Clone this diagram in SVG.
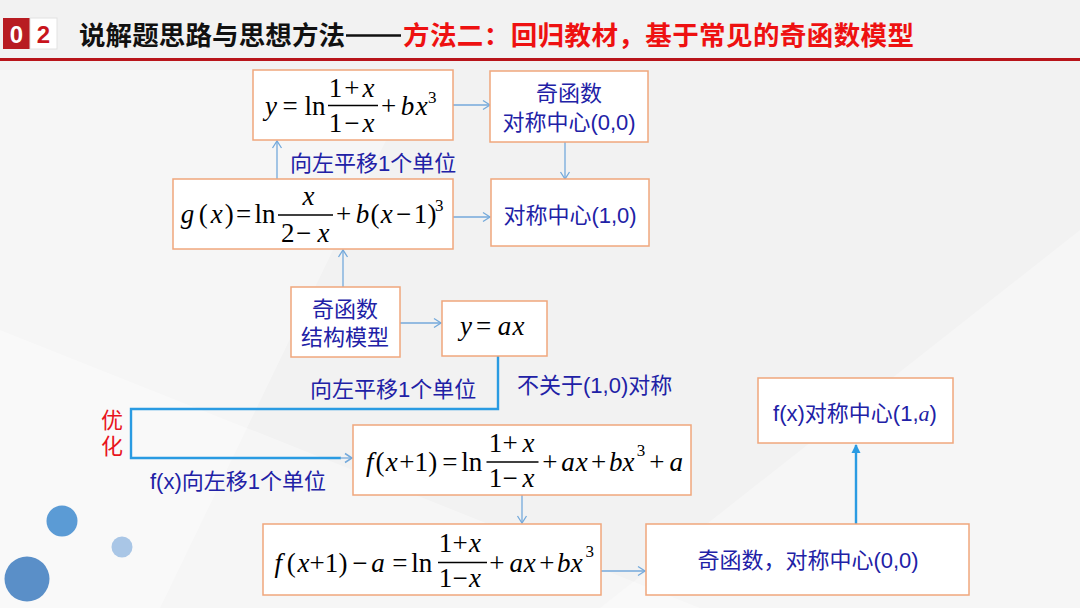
<svg xmlns="http://www.w3.org/2000/svg" width="1080" height="608" viewBox="0 0 1080 608">
<style>
.box{fill:#ffffff;stroke:#F0A77C;stroke-width:1.5}
.cn{font-family:"Liberation Sans","Noto Sans CJK SC",sans-serif;font-size:22px;fill:#2121A6}
.red{fill:#E8141C}
.m{font-family:"Liberation Serif","Times New Roman",serif;font-size:27px;fill:#000}
.i{font-style:italic}
.sup{font-size:17px}
.bar{stroke:#000;stroke-width:1.3}
.c{fill:none;stroke:#74A9DB;stroke-width:1.3}
.ct{fill:none;stroke:#2A9BE2;stroke-width:2.4}
.ttl{font-family:"Noto Sans CJK SC",sans-serif;font-weight:bold;font-size:26.5px}
</style>
<defs>
<marker id="ah" markerUnits="userSpaceOnUse" markerWidth="12" markerHeight="12" refX="9" refY="6" orient="auto">
<path d="M2,1.5 L9,6 L2,10.5" fill="none" stroke="#74A9DB" stroke-width="1.3"/>
</marker>
<marker id="ah2" markerUnits="userSpaceOnUse" markerWidth="12" markerHeight="12" refX="9" refY="6" orient="auto">
<path d="M2,1.5 L9,6 L2,10.5" fill="none" stroke="#74A9DB" stroke-width="1.5"/>
</marker>
<marker id="at" markerUnits="userSpaceOnUse" markerWidth="12" markerHeight="12" refX="9" refY="6" orient="auto">
<path d="M1,1.5 L10,6 L1,10.5 Z" fill="#2A9BE2"/>
</marker>
</defs>
<rect x="0" y="0" width="1080" height="608" fill="#F2F2F2"/>
<polygon points="0,70 420,70 160,608 0,608" fill="#ffffff" opacity="0.35"/>
<polygon points="600,608 1080,230 1080,608" fill="#ffffff" opacity="0.3"/>
<polygon points="0,330 700,608 0,608" fill="#ffffff" opacity="0.35"/>

<g id="header">
<rect x="3" y="18" width="27" height="31" fill="#B81C22"/>
<rect x="30" y="18" width="27" height="31" fill="#ffffff" stroke="#e2e2e2" stroke-width="1"/>
<text x="16.5" y="42.5" text-anchor="middle" font-family="Liberation Sans,sans-serif" font-weight="bold" font-size="24" fill="#ffffff">0</text>
<text x="43.5" y="42.5" text-anchor="middle" font-family="Liberation Sans,sans-serif" font-weight="bold" font-size="24" fill="#C8141C">2</text>
<text class="ttl" x="79" y="45" fill="#111" textLength="266" lengthAdjust="spacing">说解题思路与思想方法</text>
<line x1="346" y1="35.5" x2="401" y2="35.5" stroke="#111" stroke-width="2.6"/>
<text class="ttl" x="403" y="45" fill="#EE1111" textLength="511" lengthAdjust="spacing">方法二：回归教材，基于常见的奇函数模型</text>
<rect x="0" y="58" width="1080" height="3" fill="#B8141A"/>
</g>

<g id="connectors">
<line class="c" x1="453" y1="105" x2="490" y2="105" marker-end="url(#ah)"/>
<line class="c" x1="565" y1="142" x2="565" y2="179" marker-end="url(#ah)"/>
<line class="c" x1="453" y1="217" x2="490" y2="217" marker-end="url(#ah)"/>
<line class="c" x1="277" y1="179" x2="277" y2="141" marker-end="url(#ah)"/>
<line class="c" x1="343" y1="287" x2="343" y2="250" marker-end="url(#ah)"/>
<line class="c" x1="400" y1="323" x2="441" y2="323" marker-end="url(#ah)"/>
<polyline class="ct" points="498,356 498,409 131,409 131,458 341,458"/>
<line class="c" x1="340" y1="458" x2="352" y2="458" stroke-width="1.5" marker-end="url(#ah2)"/>
<line class="c" x1="522" y1="495" x2="522" y2="523" marker-end="url(#ah)"/>
<line class="c" x1="601" y1="571" x2="645" y2="571" marker-end="url(#ah)"/>
<line class="ct" x1="856" y1="524" x2="856" y2="445" stroke-width="2.2" marker-end="url(#at)"/>
</g>

<g id="labels">
<text class="cn" x="290" y="171">向左平移1个单位</text>
<text class="cn" x="310" y="397">向左平移1个单位</text>
<text class="cn" x="517" y="393">不关于(1,0)对称</text>
<text class="cn" x="150" y="489">f(x)向左移1个单位</text>
<text class="cn red" x="112" y="428" text-anchor="middle">优</text>
<text class="cn red" x="112" y="454" text-anchor="middle">化</text>
</g>

<g id="nodeA">
<rect class="box" x="253" y="70" width="200" height="70"/>
<text class="m" y="115"><tspan class="i" x="265">y</tspan><tspan x="282.5">=</tspan><tspan x="304.5">ln</tspan></text>
<text class="m" y="97"><tspan x="328.8">1</tspan><tspan x="344.2">+</tspan><tspan class="i" x="362.5">x</tspan></text>
<line class="bar" x1="328" y1="105.5" x2="378" y2="105.5"/>
<text class="m" y="132"><tspan x="328.8">1</tspan><tspan x="344.2">−</tspan><tspan class="i" x="362.5">x</tspan></text>
<text class="m" y="115"><tspan x="381">+</tspan><tspan class="i" x="400.7">b</tspan><tspan class="i" x="415.8">x</tspan></text>
<text class="m sup" x="428" y="103">3</text>
</g>

<g id="nodeB">
<rect class="box" x="490" y="71" width="158" height="71"/>
<text class="cn" x="569" y="101" text-anchor="middle">奇函数</text>
<text class="cn" x="569" y="130" text-anchor="middle">对称中心(0,0)</text>
</g>

<g id="nodeC">
<rect class="box" x="173" y="179" width="280" height="70"/>
<text class="m" y="223"><tspan class="i" x="180.8">g</tspan><tspan x="198.7">(</tspan><tspan class="i" x="210.8">x</tspan><tspan x="224.7">)</tspan><tspan x="235.9">=</tspan><tspan x="254.5">ln</tspan></text>
<text class="m i" x="302.5" y="205">x</text>
<line class="bar" x1="278" y1="215" x2="333" y2="215"/>
<text class="m" y="241.5"><tspan x="280.9">2</tspan><tspan x="295.9">−</tspan><tspan class="i" x="317.5">x</tspan></text>
<text class="m" y="223"><tspan x="335.9">+</tspan><tspan class="i" x="355.7">b</tspan><tspan x="370.4">(</tspan><tspan class="i" x="380.8">x</tspan><tspan x="395.9">−</tspan><tspan x="413.8">1</tspan><tspan x="427.4">)</tspan></text>
<text class="m sup" x="435" y="211">3</text>
</g>

<g id="nodeD">
<rect class="box" x="491" y="179" width="158" height="67"/>
<text class="cn" x="570" y="223" text-anchor="middle">对称中心(1,0)</text>
</g>

<g id="nodeE">
<rect class="box" x="291" y="287" width="109" height="70"/>
<text class="cn" x="345" y="317" text-anchor="middle">奇函数</text>
<text class="cn" x="345" y="345" text-anchor="middle">结构模型</text>
</g>

<g id="nodeF">
<rect class="box" x="442" y="301" width="105" height="55"/>
<text class="m" y="335"><tspan class="i" x="460">y</tspan><tspan x="476">=</tspan><tspan class="i" x="497.8">a</tspan><tspan class="i" x="512.5">x</tspan></text>
</g>

<g id="nodeG">
<rect class="box" x="353" y="425" width="338" height="70"/>
<text class="m" y="471"><tspan class="i" x="366">f</tspan><tspan x="375.4">(</tspan><tspan class="i" x="385.8">x</tspan><tspan x="399.2">+</tspan><tspan x="414.5">1</tspan><tspan x="428.2">)</tspan><tspan x="442.2">=</tspan><tspan x="461.2">ln</tspan></text>
<text class="m" y="452"><tspan x="488.8">1</tspan><tspan x="502.5">+</tspan><tspan class="i" x="522.5">x</tspan></text>
<line class="bar" x1="486.5" y1="462" x2="538.5" y2="462"/>
<text class="m" y="487"><tspan x="488.8">1</tspan><tspan x="502.5">−</tspan><tspan class="i" x="522.5">x</tspan></text>
<text class="m" y="471"><tspan x="542.2">+</tspan><tspan class="i" x="561.2">a</tspan><tspan class="i" x="575.8">x</tspan><tspan x="590.9">+</tspan><tspan class="i" x="609">b</tspan><tspan class="i" x="622.5">x</tspan><tspan x="649.2">+</tspan><tspan class="i" x="669.5">a</tspan></text>
<text class="m sup" x="636.8" y="456">3</text>
</g>

<g id="nodeH">
<rect class="box" x="263" y="524" width="338" height="71"/>
<text class="m" y="572"><tspan class="i" x="274.4">f</tspan><tspan x="286.7">(</tspan><tspan class="i" x="297.5">x</tspan><tspan x="309.6">+</tspan><tspan x="324.8">1</tspan><tspan x="338.4">)</tspan><tspan x="352.2">−</tspan><tspan class="i" x="371.2">a</tspan><tspan x="392.2">=</tspan><tspan x="411.2">ln</tspan></text>
<text class="m" y="552"><tspan x="438.8">1</tspan><tspan x="452.5">+</tspan><tspan class="i" x="469">x</tspan></text>
<line class="bar" x1="438" y1="562.5" x2="487" y2="562.5"/>
<text class="m" y="587"><tspan x="438.8">1</tspan><tspan x="452.5">−</tspan><tspan class="i" x="469">x</tspan></text>
<text class="m" y="572"><tspan x="489.2">+</tspan><tspan class="i" x="509.5">a</tspan><tspan class="i" x="523.8">x</tspan><tspan x="539.2">+</tspan><tspan class="i" x="557">b</tspan><tspan class="i" x="570.8">x</tspan></text>
<text class="m sup" x="585.5" y="556.5">3</text>
</g>

<g id="nodeI">
<rect class="box" x="646" y="524" width="323" height="71"/>
<text class="cn" x="808" y="568" text-anchor="middle">奇函数，对称中心(0,0)</text>
</g>

<g id="nodeJ">
<rect class="box" x="758" y="378" width="195" height="65"/>
<text class="cn" x="855" y="421" text-anchor="middle">f(x)对称中心(1,<tspan font-family="Liberation Serif,serif" font-style="italic">a</tspan>)</text>
</g>

<g id="decor">
<circle cx="62" cy="521" r="15.5" fill="#5B9BD5"/>
<circle cx="122" cy="547" r="10.5" fill="#A9C6E6"/>
<circle cx="27" cy="579" r="22.5" fill="#5A8FC8"/>
</g>
</svg>
